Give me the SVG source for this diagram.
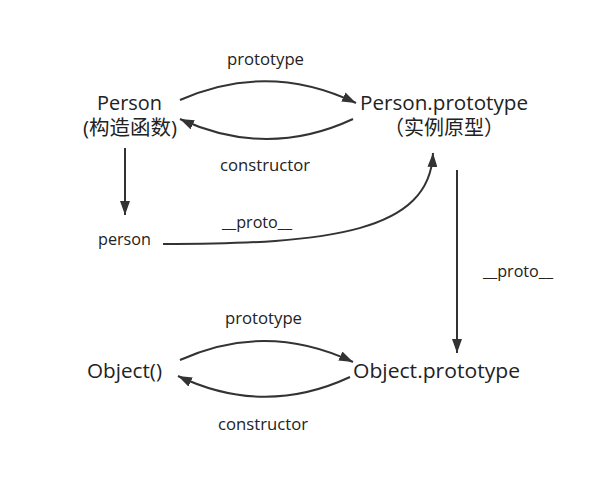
<svg xmlns="http://www.w3.org/2000/svg" width="590" height="477" viewBox="0 0 590 477">
<style>
text{font-family:"Open Sans","Noto Sans CJK SC",sans-serif;fill:#222}
.big{font-size:20.5px}
.sm{font-size:16px}
.c{fill:none;stroke:#333;stroke-width:2}
</style>
<defs>
<marker id="ah" viewBox="0 0 14 10" refX="14" refY="5" markerWidth="14" markerHeight="10" markerUnits="userSpaceOnUse" orient="auto">
<path d="M0,0 L14,5 L0,10 z" fill="#333"/>
</marker>
</defs>
<rect width="590" height="477" fill="#fff"/>
<g id="connectors">
<path class="c" d="M180,100 Q268,61 356,103" marker-end="url(#ah)"/>
<path class="c" d="M353,119 Q267,159 180,119" marker-end="url(#ah)"/>
<path class="c" d="M125,148 L125,215" marker-end="url(#ah)"/>
<path class="c" d="M163,244 C330,244 430,232 433,153" marker-end="url(#ah)"/>
<path class="c" d="M457,170 L457,353" marker-end="url(#ah)"/>
<path class="c" d="M180,360 Q266,321 353,362" marker-end="url(#ah)"/>
<path class="c" d="M350,377 Q264,417 178,376" marker-end="url(#ah)"/>
</g>
<g id="labels">
<text class="sm" x="265.5" y="65" text-anchor="middle" textLength="77" lengthAdjust="spacingAndGlyphs">prototype</text>
<text class="sm" x="265" y="171" text-anchor="middle" textLength="90" lengthAdjust="spacingAndGlyphs">constructor</text>
<text class="sm" x="257" y="228" text-anchor="middle" textLength="70" lengthAdjust="spacingAndGlyphs">__proto__</text>
<text class="sm" x="518" y="277" text-anchor="middle" textLength="70" lengthAdjust="spacingAndGlyphs">__proto__</text>
<text class="sm" x="263.5" y="324" text-anchor="middle" textLength="77" lengthAdjust="spacingAndGlyphs">prototype</text>
<text class="sm" x="263" y="430" text-anchor="middle" textLength="90" lengthAdjust="spacingAndGlyphs">constructor</text>
</g>
<g id="Person">
<text class="big" x="129.5" y="110" text-anchor="middle" textLength="65" lengthAdjust="spacingAndGlyphs">Person</text>
<text class="big" x="130" y="135" text-anchor="middle" textLength="94" lengthAdjust="spacingAndGlyphs">(构造函数)</text>
</g>
<g id="PersonPrototype">
<text class="big" x="444" y="110" text-anchor="middle" textLength="168" lengthAdjust="spacingAndGlyphs">Person.prototype</text>
<text class="big" x="444" y="135" text-anchor="middle" textLength="120" lengthAdjust="spacingAndGlyphs">（实例原型）</text>
</g>
<g id="person">
<text class="sm" x="124.5" y="245" text-anchor="middle" textLength="53" lengthAdjust="spacingAndGlyphs">person</text>
</g>
<g id="Object">
<text class="big" x="124.5" y="378" text-anchor="middle" textLength="75" lengthAdjust="spacingAndGlyphs">Object()</text>
</g>
<g id="ObjectPrototype">
<text class="big" x="436.5" y="378" text-anchor="middle" textLength="167" lengthAdjust="spacingAndGlyphs">Object.prototype</text>
</g>
</svg>
